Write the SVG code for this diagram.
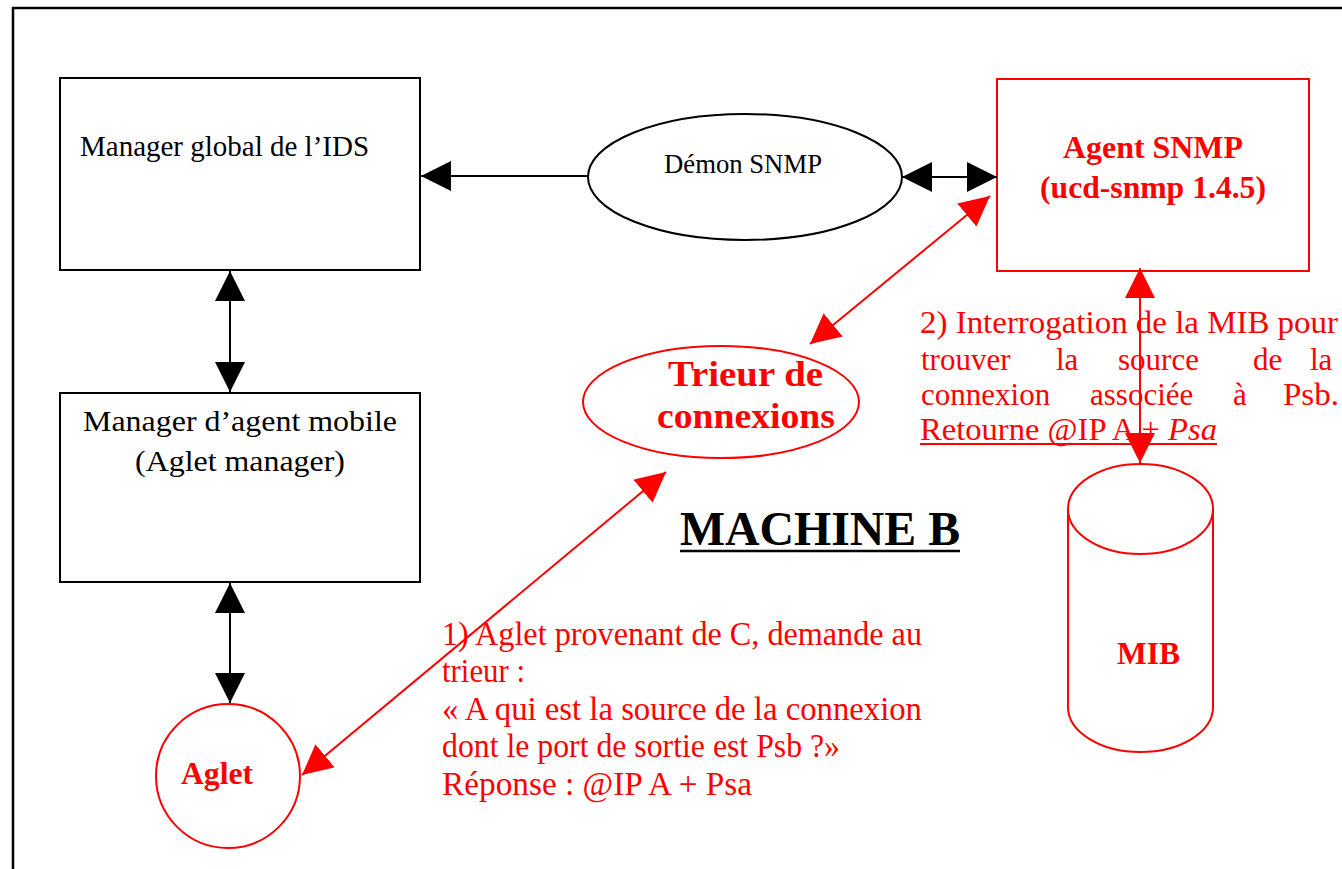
<svg xmlns="http://www.w3.org/2000/svg" width="1342" height="869" viewBox="0 0 1342 869">
<style>
.box{fill:#fff;stroke:#000;stroke-width:2}
.rbox{fill:#fff;stroke:#f00;stroke-width:2}
.t{font-family:"Liberation Serif","Times New Roman",serif;fill:#000}
.r{font-family:"Liberation Serif","Times New Roman",serif;fill:#f00}
.b{font-weight:bold}
.bl{stroke:#000;stroke-width:2;fill:none}
.rl{stroke:#f00;stroke-width:2;fill:none}
</style>
<defs>
<marker id="ab" markerUnits="userSpaceOnUse" markerWidth="30" markerHeight="30" refX="30" refY="15" orient="auto-start-reverse" viewBox="0 0 30 30"><path d="M0,0 L30,15 L0,30 z" fill="#000"/></marker>
<marker id="ar" markerUnits="userSpaceOnUse" markerWidth="30" markerHeight="30" refX="30" refY="15" orient="auto-start-reverse" viewBox="0 0 30 30"><path d="M0,0 L30,15 L0,30 z" fill="#f00"/></marker>
</defs>
<rect width="1342" height="869" fill="#fff"/>
<path d="M13,869 L13,8 L1342,8" stroke="#000" stroke-width="2.5" fill="none"/>

<g id="manager-global">
<rect class="box" x="60" y="78" width="360" height="192"/>
<text class="t" x="80" y="156" font-size="29" textLength="289" lengthAdjust="spacingAndGlyphs">Manager global de l’IDS</text>
</g>
<g id="manager-agent">
<rect class="box" x="60" y="393" width="360" height="189"/>
<text class="t" x="83" y="431" font-size="30" textLength="314" lengthAdjust="spacingAndGlyphs">Manager d’agent mobile</text>
<text class="t" x="135" y="471" font-size="30" textLength="210" lengthAdjust="spacingAndGlyphs">(Aglet manager)</text>
</g>
<g id="demon">
<ellipse cx="745" cy="177" rx="157" ry="63" fill="#fff" stroke="#000" stroke-width="2"/>
<text class="t" x="664" y="173" font-size="28" textLength="158" lengthAdjust="spacingAndGlyphs">Démon SNMP</text>
</g>
<g id="agent-snmp">
<rect class="rbox" x="997" y="79" width="312" height="192"/>
<text class="r b" x="1063" y="158" font-size="31" textLength="180" lengthAdjust="spacingAndGlyphs">Agent SNMP</text>
<text class="r b" x="1040" y="198" font-size="31" textLength="226" lengthAdjust="spacingAndGlyphs">(ucd-snmp 1.4.5)</text>
</g>
<g id="trieur">
<ellipse cx="721" cy="402" rx="138" ry="56" fill="#fff" stroke="#f00" stroke-width="2"/>
<text class="r b" x="668" y="386" font-size="36" textLength="155" lengthAdjust="spacingAndGlyphs">Trieur de</text>
<text class="r b" x="657" y="428" font-size="36" textLength="178" lengthAdjust="spacingAndGlyphs">connexions</text>
</g>
<g id="mib">
<path d="M1068,509 L1068,707 A72.5,45 0 0 0 1213,707 L1213,509" fill="#fff" stroke="#f00" stroke-width="2"/>
<ellipse cx="1140.5" cy="509" rx="72.5" ry="45" fill="#fff" stroke="#f00" stroke-width="2"/>
<text class="r b" x="1117" y="664" font-size="31" textLength="63" lengthAdjust="spacingAndGlyphs">MIB</text>
</g>
<g id="aglet">
<circle cx="228" cy="776" r="72" fill="#fff" stroke="#f00" stroke-width="2"/>
<text class="r b" x="181" y="784" font-size="31" textLength="72" lengthAdjust="spacingAndGlyphs">Aglet</text>
</g>

<g id="connectors">
<line class="bl" x1="588" y1="176" x2="421" y2="176" marker-end="url(#ab)"/>
<line class="bl" x1="902" y1="177" x2="997" y2="177" marker-start="url(#ab)" marker-end="url(#ab)"/>
<line class="bl" x1="230" y1="271" x2="230" y2="392" marker-start="url(#ab)" marker-end="url(#ab)"/>
<line class="bl" x1="230" y1="583" x2="230" y2="703" marker-start="url(#ab)" marker-end="url(#ab)"/>
<line class="rl" x1="990" y1="196" x2="810" y2="344" marker-start="url(#ar)" marker-end="url(#ar)"/>
<line class="rl" x1="1140" y1="268" x2="1140" y2="463" marker-start="url(#ar)" marker-end="url(#ar)"/>
<line class="rl" x1="666" y1="472" x2="302" y2="775" marker-start="url(#ar)" marker-end="url(#ar)"/>
</g>

<g id="label-machine">
<text class="t b" x="680" y="545" font-size="48" textLength="280" lengthAdjust="spacingAndGlyphs">MACHINE B</text>
<line x1="680" y1="551" x2="960" y2="551" stroke="#000" stroke-width="2.5"/>
</g>

<g id="label-2">
<text class="r" x="920" y="333" font-size="31" textLength="418" lengthAdjust="spacingAndGlyphs">2) Interrogation de la MIB pour</text>
<text class="r" y="370" font-size="31"><tspan x="921">trouver</tspan><tspan x="1056">la</tspan><tspan x="1118">source</tspan><tspan x="1253">de</tspan><tspan x="1310">la</tspan></text>
<text class="r" y="405" font-size="31"><tspan x="921">connexion</tspan><tspan x="1090">associée</tspan><tspan x="1233">à</tspan><tspan x="1283" textLength="56" lengthAdjust="spacingAndGlyphs">Psb.</tspan></text>
<text class="r" x="920" y="440" font-size="31" textLength="297" lengthAdjust="spacingAndGlyphs">Retourne @IP A + <tspan font-style="italic">Psa</tspan></text>
<line x1="920" y1="444" x2="1217" y2="444" stroke="#f00" stroke-width="2"/>
</g>

<g id="label-1">
<text class="r" x="442" y="645" font-size="33" textLength="480" lengthAdjust="spacingAndGlyphs">1) Aglet provenant de C, demande au</text>
<text class="r" x="442" y="682" font-size="33" textLength="83" lengthAdjust="spacingAndGlyphs">trieur :</text>
<text class="r" x="442" y="720" font-size="33" textLength="480" lengthAdjust="spacingAndGlyphs">« A qui est la source de la  connexion</text>
<text class="r" x="442" y="757" font-size="33" textLength="398" lengthAdjust="spacingAndGlyphs">dont le port de sortie est Psb ?»</text>
<text class="r" x="442" y="795" font-size="33" textLength="310" lengthAdjust="spacingAndGlyphs">Réponse :  @IP A + Psa</text>
</g>
</svg>
